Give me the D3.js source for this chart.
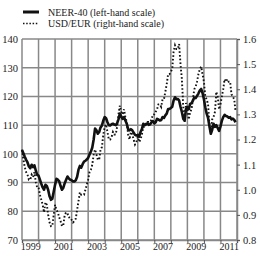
<!DOCTYPE html>
<html>
<head>
<meta charset="utf-8">
<script src="https://cdn.jsdelivr.net/npm/d3@7"></script>
<style>
  body { margin: 0; background: #fff; }
  svg text { font-family: "Liberation Serif", "Times New Roman", serif; fill: #222; }
</style>
</head>
<body>
<div id="chart"></div>
<script>
// monthly data, Jan 1999 - Dec 2011
const neer40 = [
  101.3, 100.2, 99.0, 97.9, 97.0, 95.6, 95.0, 96.2, 95.4, 96.0, 94.2, 92.7,
  92.4, 91.0, 89.6, 88.3, 87.5, 89.2, 88.8, 87.4, 85.2, 84.0, 84.4, 86.8,
  89.2, 91.3, 91.0, 90.4, 88.8, 87.5, 88.2, 89.8, 91.0, 92.1, 91.4, 91.0,
  90.8, 90.4, 90.4, 90.8, 92.0, 94.5, 95.8, 95.2, 96.4, 97.3, 97.6, 98.0,
  98.6, 99.8, 100.8, 102.2, 105.0, 108.8, 108.2, 107.0, 107.6, 109.2, 109.9, 111.6,
  112.8, 112.4, 111.0, 110.0, 109.9, 110.3, 110.5, 110.2, 110.0, 110.6, 112.0, 114.0,
  113.0, 112.2, 112.8, 111.6, 110.5, 108.6, 108.2, 108.6, 108.2, 107.4, 106.6, 106.4,
  106.6, 106.0, 107.6, 108.6, 110.5, 110.0, 110.4, 110.6, 110.1, 110.3, 111.0, 111.4,
  110.6, 111.0, 112.2, 112.0, 111.6, 111.8, 112.8, 112.5, 113.4, 114.0, 115.6, 115.6,
  116.0, 116.4, 118.6, 119.7, 119.0, 119.1, 118.6, 116.4, 114.6, 112.2, 111.6, 115.6,
  116.2, 115.6, 117.4, 117.6, 118.5, 119.6, 119.4, 120.2, 121.0, 122.0, 122.6, 121.2,
  119.0, 116.2, 114.0, 112.5, 109.6, 107.0, 108.4, 110.5, 109.4, 110.0, 109.0, 108.0,
  109.5, 111.5, 112.8, 113.6, 113.2, 113.0, 112.6, 112.8, 112.0, 112.3, 111.8, 111.0
];
const usdEur = [
  1.16, 1.12, 1.09, 1.07, 1.06, 1.04, 1.04, 1.06, 1.05, 1.07, 1.03, 1.01,
  1.01, 0.98, 0.96, 0.94, 0.91, 0.95, 0.94, 0.90, 0.87, 0.855, 0.856, 0.90,
  0.94, 0.92, 0.91, 0.89, 0.875, 0.855, 0.86, 0.90, 0.91, 0.905, 0.89, 0.89,
  0.88, 0.87, 0.875, 0.885, 0.92, 0.955, 0.99, 0.98, 0.98, 0.98, 1.00, 1.02,
  1.04, 1.07, 1.08, 1.10, 1.14, 1.16, 1.14, 1.12, 1.12, 1.16, 1.17, 1.22,
  1.25, 1.26, 1.23, 1.20, 1.20, 1.21, 1.23, 1.22, 1.22, 1.25, 1.30, 1.335,
  1.31, 1.30, 1.32, 1.29, 1.27, 1.22, 1.20, 1.23, 1.22, 1.20, 1.18, 1.19,
  1.21, 1.19, 1.20, 1.22, 1.25, 1.25, 1.26, 1.27, 1.27, 1.27, 1.28, 1.30,
  1.30, 1.31, 1.32, 1.34, 1.34, 1.33, 1.36, 1.36, 1.39, 1.42, 1.46, 1.46,
  1.47, 1.48, 1.55, 1.575, 1.56, 1.56, 1.58, 1.50, 1.44, 1.33, 1.27, 1.345,
  1.32, 1.28, 1.31, 1.32, 1.36, 1.40, 1.41, 1.43, 1.46, 1.48, 1.49, 1.46,
  1.43, 1.37, 1.36, 1.34, 1.26, 1.22, 1.28, 1.29, 1.31, 1.39, 1.37, 1.32,
  1.34, 1.37, 1.40, 1.44, 1.43, 1.44, 1.43, 1.43, 1.38, 1.37, 1.36, 1.31
];
const startYear = 1999;
const yearTicks = d3.range(1999, 2013);
const yearLabels = [1999, 2001, 2003, 2005, 2007, 2009, 2011];
const leftTicks = [70, 80, 90, 100, 110, 120, 130, 140];
const rightTicks = [0.8, 0.9, 1.0, 1.1, 1.2, 1.3, 1.4, 1.5, 1.6];
const legendItems = [
  { label: "NEER-40 (left-hand scale)", dotted: false },
  { label: "USD/EUR (right-hand scale)", dotted: true }
];

const W = 260, H = 256;
const plot = { left: 22, right: 237, top: 39, bottom: 240 };
const gridColor = "#888";

const svg = d3.select("#chart").append("svg")
  .attr("width", W).attr("height", H);

const x = d3.scaleLinear().domain([1999, 2012]).range([plot.left, plot.right]);
const yL = d3.scaleLinear().domain([70, 140]).range([plot.bottom, plot.top]);
const yR = d3.scaleLinear().domain([0.8, 1.6]).range([plot.bottom, plot.top]);

// grid
const grid = svg.append("g").attr("class", "grid")
  .attr("stroke", gridColor).attr("stroke-width", 1.5);
grid.selectAll(".h").data(leftTicks).join("line")
  .attr("x1", plot.left).attr("x2", plot.right)
  .attr("y1", d => yL(d)).attr("y2", d => yL(d));
grid.selectAll(".v").data(yearTicks).join("line")
  .attr("x1", d => x(d)).attr("x2", d => x(d))
  .attr("y1", plot.top).attr("y2", plot.bottom);

// bottom axis: ticks at each year, labels centred in the year
const xAxisG = svg.append("g")
  .attr("transform", `translate(0,${plot.bottom})`)
  .call(d3.axisBottom(x).tickValues(yearTicks).tickSize(3).tickFormat(""));
xAxisG.select(".domain").attr("stroke", gridColor).attr("stroke-width", 1.5);
xAxisG.selectAll(".tick line").attr("stroke", "#555");

const xLabG = svg.append("g")
  .attr("transform", `translate(0,${plot.bottom})`)
  .call(d3.axisBottom(x).tickValues(yearLabels.map(d => d + 0.5))
    .tickSize(0).tickPadding(3).tickFormat(d => Math.floor(d)));
xLabG.select(".domain").remove();
xLabG.selectAll("text").style("font-size", "10px").attr("fill", "#222");

// left axis
const yLG = svg.append("g")
  .attr("transform", `translate(${plot.left},0)`)
  .call(d3.axisLeft(yL).tickValues(leftTicks).tickSize(0).tickPadding(4));
yLG.select(".domain").remove();
yLG.selectAll("text").style("font-size", "10.5px").attr("fill", "#222");

// right axis
const yRG = svg.append("g")
  .attr("transform", `translate(${plot.right},0)`)
  .call(d3.axisRight(yR).tickValues(rightTicks).tickSize(3).tickPadding(3)
    .tickFormat(d3.format(".1f")));
yRG.select(".domain").attr("stroke", gridColor).attr("stroke-width", 1.5);
yRG.selectAll(".tick line").attr("stroke", "#555");
yRG.selectAll("text").style("font-size", "10.5px").attr("fill", "#222");

// lines
const xAt = (d, i) => x(startYear + i / 12);
svg.append("path").datum(usdEur)
  .attr("fill", "none").attr("stroke", "#111").attr("stroke-width", 1.9)
  .attr("stroke-dasharray", "1.6,2.1")
  .attr("d", d3.line().x(xAt).y(d => yR(d)));
svg.append("path").datum(neer40)
  .attr("fill", "none").attr("stroke", "#111").attr("stroke-width", 2.6)
  .attr("stroke-linejoin", "round")
  .attr("d", d3.line().x(xAt).y(d => yL(d)));

// legend
const legend = svg.append("g").attr("class", "legend");
const rows = legend.selectAll("g").data(legendItems).join("g")
  .attr("transform", (d, i) => `translate(23,${12 + i * 11.5})`);
rows.append("line")
  .attr("x1", 0).attr("x2", 16).attr("y1", 0).attr("y2", 0)
  .attr("stroke", "#111")
  .attr("stroke-width", d => d.dotted ? 1.7 : 3)
  .attr("stroke-dasharray", d => d.dotted ? "1.5,1.7" : null);
rows.append("text")
  .attr("x", 25).attr("y", 3.5)
  .style("font-size", "10px")
  .text(d => d.label);
</script>
</body>
</html>
